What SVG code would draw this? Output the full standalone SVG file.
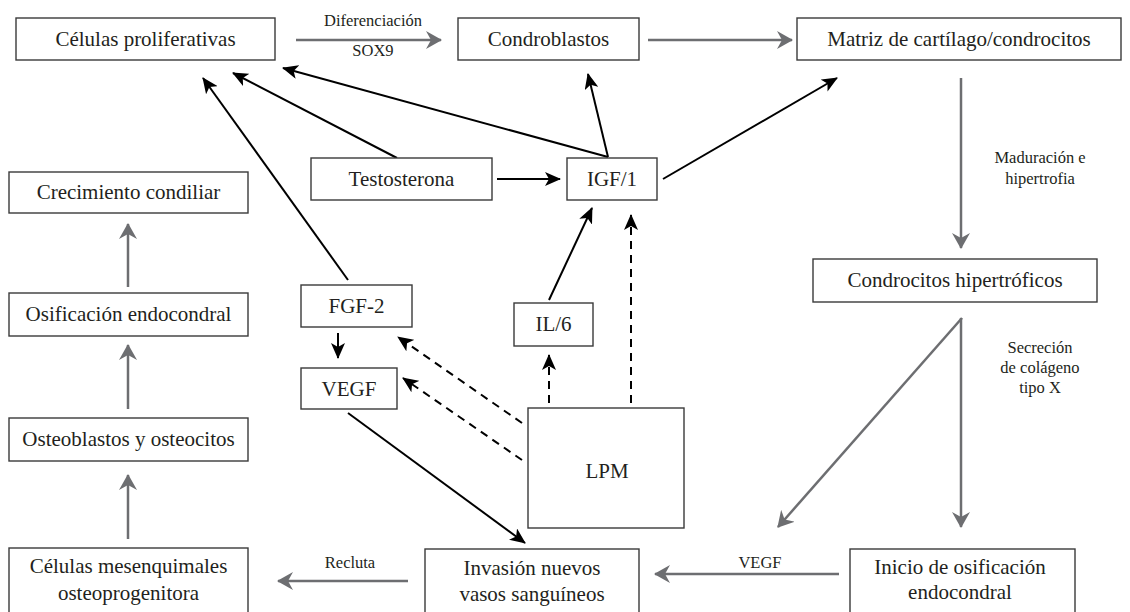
<svg xmlns="http://www.w3.org/2000/svg" width="1130" height="612" viewBox="0 0 1130 612">
<style>
.box{fill:#fff;stroke:#3a3a3a;stroke-width:1.4}
.t{font-family:"Liberation Serif",serif;font-size:21px;fill:#231f20;text-anchor:middle}
.s{font-family:"Liberation Serif",serif;font-size:16.5px;fill:#231f20;text-anchor:middle}
.g{stroke:#6d6e71;stroke-width:2.5;fill:none;marker-end:url(#ag)}
.k{stroke:#000;stroke-width:2;fill:none;marker-end:url(#ab)}
.d{stroke:#000;stroke-width:2;fill:none;stroke-dasharray:8,6;marker-end:url(#ab)}
</style>
<defs>
<marker id="ag" viewBox="0 0 16 18" refX="15" refY="9" markerWidth="16" markerHeight="18" markerUnits="userSpaceOnUse" orient="auto"><path d="M0,0 L16,9 L0,18 L5,9 z" fill="#6d6e71"/></marker>
<marker id="ab" viewBox="0 0 16 14" refX="15" refY="7" markerWidth="16" markerHeight="14" markerUnits="userSpaceOnUse" orient="auto"><path d="M0,0 L16,7 L0,14 L4,7 z" fill="#000"/></marker>
</defs>
<rect width="1130" height="612" fill="#fff"/>
<g id="connectors">
<line class="g" x1="296" y1="40" x2="441" y2="40"/>
<line class="g" x1="648" y1="40" x2="792" y2="40"/>
<line class="g" x1="961" y1="78" x2="961" y2="248"/>
<line class="g" x1="961" y1="318" x2="961" y2="527"/>
<line class="g" x1="962" y1="318" x2="778" y2="527"/>
<line class="g" x1="839" y1="574" x2="655" y2="574"/>
<line class="g" x1="408" y1="581" x2="278" y2="581"/>
<line class="g" x1="128" y1="539" x2="128" y2="475"/>
<line class="g" x1="128" y1="409" x2="128" y2="345"/>
<line class="g" x1="128" y1="287" x2="128" y2="224"/>
<line class="k" x1="497" y1="179" x2="560" y2="179"/>
<line class="k" x1="663" y1="179" x2="837" y2="78"/>
<line class="k" x1="608" y1="157" x2="588" y2="74"/>
<line class="k" x1="608" y1="157" x2="283" y2="68"/>
<line class="k" x1="397" y1="158" x2="233" y2="73"/>
<line class="k" x1="348" y1="280" x2="203" y2="78"/>
<line class="k" x1="338" y1="333" x2="338" y2="358"/>
<line class="k" x1="549" y1="300" x2="592" y2="208"/>
<line class="k" x1="348" y1="413" x2="525" y2="543"/>
<line class="d" x1="631" y1="403" x2="631" y2="215"/>
<line class="d" x1="549" y1="403" x2="549" y2="355"/>
<line class="d" x1="522" y1="423" x2="398" y2="337"/>
<line class="d" x1="522" y1="460" x2="403" y2="378"/>
<text class="s" x="373" y="26">Diferenciación</text>
<text class="s" x="373" y="56">SOX9</text>
<text class="s" x="1040" y="163">Maduración e</text>
<text class="s" x="1040" y="184">hipertrofia</text>
<text class="s" x="1040" y="353">Secreción</text>
<text class="s" x="1040" y="373">de colágeno</text>
<text class="s" x="1040" y="393">tipo X</text>
<text class="s" x="760" y="568">VEGF</text>
<text class="s" x="350" y="568">Recluta</text>
</g>
<g id="n-celulas-prolif"><rect class="box" x="16" y="18" width="259" height="42"/><text class="t" x="145.5" y="46">Células proliferativas</text></g>
<g id="n-condroblastos"><rect class="box" x="458" y="18" width="181" height="42"/><text class="t" x="548.5" y="46">Condroblastos</text></g>
<g id="n-matriz"><rect class="box" x="797" y="18" width="324" height="42"/><text class="t" x="959" y="46">Matriz de cartílago/condrocitos</text></g>
<g id="n-testosterona"><rect class="box" x="311" y="158" width="181" height="42"/><text class="t" x="401.5" y="186">Testosterona</text></g>
<g id="n-igf1"><rect class="box" x="567" y="158" width="90" height="42"/><text class="t" x="612" y="186">IGF/1</text></g>
<g id="n-crecimiento"><rect class="box" x="9" y="172" width="239" height="41"/><text class="t" x="128.5" y="199">Crecimiento condiliar</text></g>
<g id="n-osificacion"><rect class="box" x="9" y="293" width="239" height="43"/><text class="t" x="128.5" y="321">Osificación endocondral</text></g>
<g id="n-osteoblastos"><rect class="box" x="9" y="418" width="239" height="43"/><text class="t" x="128.5" y="446">Osteoblastos y osteocitos</text></g>
<g id="n-mesenquimales"><rect class="box" x="9" y="548" width="239" height="70"/><text class="t" x="128.5" y="573">Células mesenquimales</text><text class="t" x="128.5" y="600">osteoprogenitora</text></g>
<g id="n-fgf2"><rect class="box" x="301" y="285" width="111" height="42"/><text class="t" x="356.5" y="313">FGF-2</text></g>
<g id="n-vegf"><rect class="box" x="301" y="368" width="96" height="41"/><text class="t" x="349" y="396">VEGF</text></g>
<g id="n-il6"><rect class="box" x="514" y="303" width="79" height="43"/><text class="t" x="553.5" y="331">IL/6</text></g>
<g id="n-lpm"><rect class="box" x="528" y="408" width="156" height="120"/><text class="t" x="607" y="478">LPM</text></g>
<g id="n-hipertroficos"><rect class="box" x="813" y="259" width="284" height="43"/><text class="t" x="955" y="287">Condrocitos hipertróficos</text></g>
<g id="n-inicio"><rect class="box" x="850" y="549" width="225" height="70"/><text class="t" x="960" y="574">Inicio de osificación</text><text class="t" x="960" y="599">endocondral</text></g>
<g id="n-invasion"><rect class="box" x="425" y="549" width="214" height="70"/><text class="t" x="532" y="575">Invasión nuevos</text><text class="t" x="532" y="601">vasos sanguíneos</text></g>
</svg>
